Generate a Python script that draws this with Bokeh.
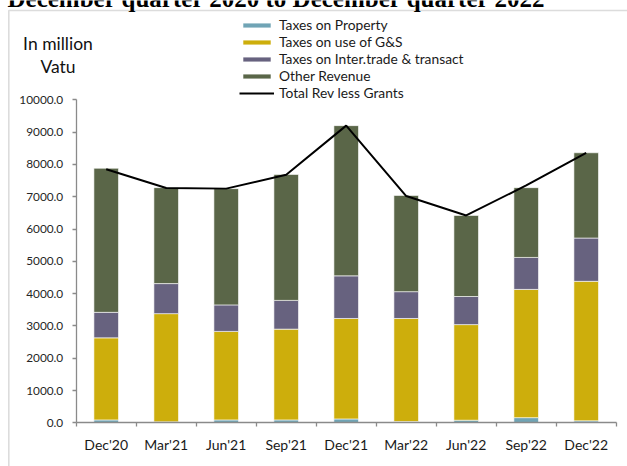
from bokeh.plotting import figure
from bokeh.models import (Range1d, FixedTicker, NumeralTickFormatter, Legend,
                          LegendItem, Label, BoxAnnotation, ColumnDataSource)
from bokeh.embed import file_html
from bokeh.resources import INLINE

quarters = ["Dec'20", "Mar'21", "Jun'21", "Sep'21", "Dec'21",
            "Mar'22", "Jun'22", "Sep'22", "Dec'22"]
property_tax = [90, 30, 90, 90, 120, 40, 80, 160, 60]
gs_tax = [2540, 3350, 2740, 2810, 3110, 3190, 2960, 3970, 4320]
trade_tax = [790, 930, 820, 890, 1320, 830, 870, 990, 1340]
other_rev = [4460, 2970, 3600, 3900, 4650, 2980, 2510, 2160, 2640]
total_rev = [7850, 7270, 7250, 7680, 9200, 7020, 6420, 7350, 8360]
y_ticks = [0, 1000, 2000, 3000, 4000, 5000, 6000, 7000, 8000, 9000, 10000]
series_names = ["Taxes on Property", "Taxes on use of G&S",
                "Taxes on Inter.trade & transact", "Other Revenue"]
line_name = "Total Rev less Grants"
title_text = "December quarter 2020 to December quarter 2022"
unit_text = ["In million", "Vatu"]

colors = ["#70a4b5", "#cdae0c", "#67627f", "#5a6648"]
FONT = "Lato"
GRAY = "#8a8a8a"
W, H = 627, 466

n = len(quarters)
xpos = [i + 0.5 for i in range(n)]
bounds = [float(i) for i in range(n + 1)]

# pixel geometry of the plotting area inside the full-canvas frame
PX_LEFT, PX_RIGHT = 75.7, 615.7      # x of category 0 start / category n end
PX_ZERO, PX_TOP = 422.3, 99.3        # y of 0 and of 10000
ppu_x = (PX_RIGHT - PX_LEFT) / n
ppu_y = (PX_ZERO - PX_TOP) / 10000.0
x_range = Range1d(-PX_LEFT / ppu_x, n + (W - PX_RIGHT) / ppu_x)
y_range = Range1d(-(H - PX_ZERO) / ppu_y, PX_ZERO / ppu_y)

src = ColumnDataSource(dict(x=xpos, p=property_tax, g=gs_tax, t=trade_tax,
                            o=other_rev, total=total_rev))

p = figure(width=W, height=H, output_backend="svg", toolbar_location=None,
           x_range=x_range, y_range=y_range,
           min_border=0, min_border_left=0, min_border_right=0,
           min_border_top=0, min_border_bottom=0)
p.outline_line_color = None
p.xgrid.visible = False
p.ygrid.visible = False
p.background_fill_color = "white"
p.border_fill_color = "white"

bars = p.vbar_stack(["p", "g", "t", "o"], x="x", width=0.41, source=src,
                    color=colors, line_color="white", line_width=0.6)
ln = p.line("x", "total", source=src, line_color="black", line_width=2)

# x axis (fixed at y = 0)
xa = p.xaxis[0]
xa.fixed_location = 0
xa.bounds = (0, n)
xa.ticker = FixedTicker(ticks=xpos, minor_ticks=bounds)
xa.major_label_overrides = {x: q for x, q in zip(xpos, quarters)}
xa.axis_line_color = GRAY
xa.axis_line_width = 1.3
xa.major_tick_line_color = None
xa.major_tick_out = 0
xa.major_tick_in = 0
xa.minor_tick_line_color = GRAY
xa.minor_tick_line_width = 1.3
xa.minor_tick_out = 4
xa.minor_tick_in = 0
xa.major_label_standoff = 9
xa.major_label_text_font = FONT
xa.major_label_text_font_size = "14px"
xa.major_label_text_color = "#1a1a1a"

# y axis (fixed at x = 0)
ya = p.yaxis[0]
ya.fixed_location = 0
ya.bounds = (0, 10000)
ya.ticker = FixedTicker(ticks=y_ticks)
ya.formatter = NumeralTickFormatter(format="0.0")
ya.axis_line_color = GRAY
ya.axis_line_width = 1.3
ya.major_tick_line_color = GRAY
ya.major_tick_line_width = 1.3
ya.major_tick_out = 4
ya.major_tick_in = 0
ya.minor_tick_line_color = None
ya.major_label_standoff = 9
ya.major_label_text_font = FONT
ya.major_label_text_font_size = "11.8px"
ya.major_label_text_color = "#262626"

# chart border (left and top edges visible in the crop)
p.add_layout(BoxAnnotation(left=8.3, right=W + 50, top=H - 10, bottom=-50,
                           left_units="screen", right_units="screen",
                           top_units="screen", bottom_units="screen",
                           fill_color=None, fill_alpha=0,
                           line_color=GRAY, line_width=1.6))

# cut-off heading at the very top
p.add_layout(Label(x=7, y=H + 2.5, x_units="screen", y_units="screen",
                   text=title_text, text_align="left",
                   text_baseline="alphabetic", text_font="Liberation Serif",
                   text_font_style="bold", text_font_size="25px",
                   text_color="#000000"))

# unit labels
for txt, yy in zip(unit_text, [43, 66]):
    p.add_layout(Label(x=57.5, y=H - yy, x_units="screen", y_units="screen",
                       text=txt, text_align="center", text_baseline="middle",
                       text_font=FONT, text_font_size="17.5px",
                       text_color="#111111"))

items = [LegendItem(label=nm, renderers=[r]) for nm, r in zip(series_names, bars)]
items.append(LegendItem(label=line_name, renderers=[ln]))
legend = Legend(items=items, location=(239, H - 101), orientation="vertical",
                glyph_width=35, glyph_height=6, label_height=16, spacing=0,
                padding=0, margin=0, label_standoff=5,
                border_line_color=None, background_fill_alpha=0,
                label_text_font=FONT, label_text_font_size="13.8px",
                label_text_color="#1a1a1a")
p.add_layout(legend, "center")

open("out.html", "w").write(file_html(p, INLINE))
